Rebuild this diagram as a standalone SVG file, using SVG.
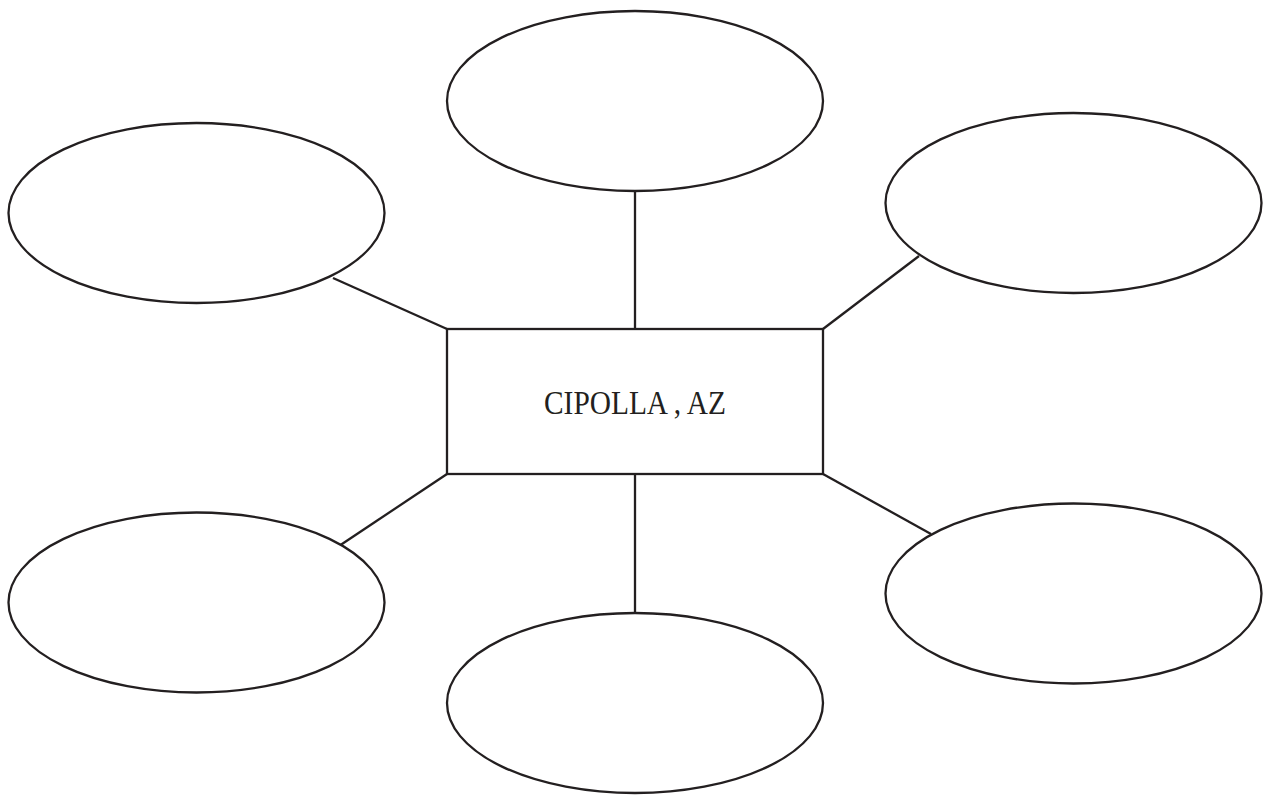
<svg xmlns="http://www.w3.org/2000/svg" width="1265" height="795" viewBox="0 0 1265 795">
<style>
.shape{fill:#fff;stroke:#231f20;stroke-width:2.3}
.conn line{stroke:#231f20;stroke-width:2.3;fill:none}
.lbl{font-family:"Liberation Serif","DejaVu Serif",serif;font-size:33px;fill:#231f20}
</style>
<rect width="1265" height="795" fill="#fff"/>
<g id="connectors" class="conn">
<line x1="635" y1="191" x2="635" y2="329"/>
<line x1="333" y1="278" x2="447" y2="329"/>
<line x1="919" y1="256" x2="823" y2="329"/>
<line x1="447" y1="474" x2="339" y2="546"/>
<line x1="635" y1="474" x2="635" y2="613"/>
<line x1="823" y1="474" x2="931" y2="534"/>
</g>
<g id="node-top"><ellipse class="shape" cx="635" cy="101" rx="188" ry="90"/></g>
<g id="node-top-left"><ellipse class="shape" cx="196.5" cy="213" rx="188" ry="90"/></g>
<g id="node-top-right"><ellipse class="shape" cx="1073.5" cy="203" rx="188" ry="90"/></g>
<g id="node-bottom-left"><ellipse class="shape" cx="196.5" cy="602.5" rx="188" ry="90"/></g>
<g id="node-bottom-right"><ellipse class="shape" cx="1073.5" cy="593.5" rx="188" ry="90"/></g>
<g id="node-bottom"><ellipse class="shape" cx="635" cy="703" rx="188" ry="90"/></g>
<g id="node-center">
<rect class="shape" x="447" y="329" width="376" height="145"/>
<text class="lbl" x="635" y="414" text-anchor="middle" textLength="182" lengthAdjust="spacingAndGlyphs">CIPOLLA , AZ</text>
</g>
</svg>
